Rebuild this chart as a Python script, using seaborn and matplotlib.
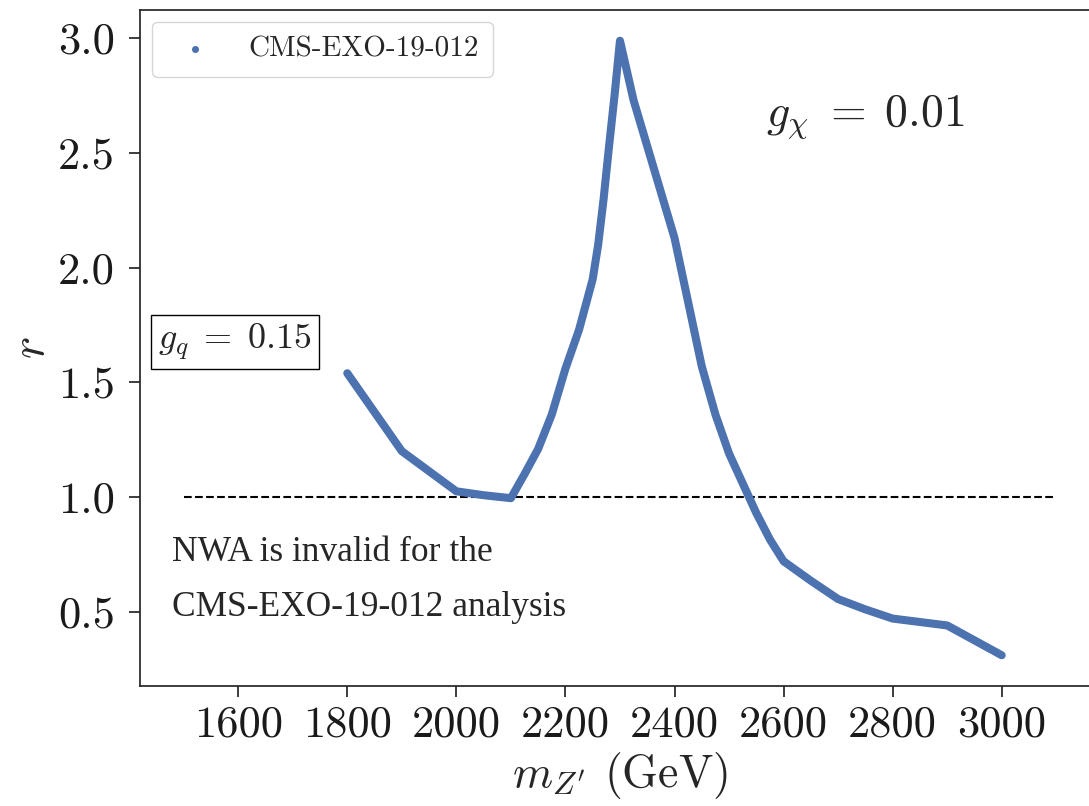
import matplotlib
matplotlib.use('Agg')
import matplotlib.pyplot as plt
import seaborn as sns

# ---- data ----
mass = [1800, 1850, 1900, 2000, 2050, 2100, 2125, 2150, 2175, 2200,
        2225, 2250, 2260, 2270, 2280, 2290, 2300, 2325, 2350, 2375,
        2400, 2425, 2450, 2475, 2500, 2525, 2550, 2575, 2600, 2650,
        2700, 2750, 2800, 2900, 3000]
r_vals = [1.54, 1.37, 1.20, 1.025, 1.008, 0.995, 1.10, 1.21, 1.36, 1.56,
          1.73, 1.95, 2.10, 2.30, 2.53, 2.75, 2.99, 2.73, 2.53, 2.33,
          2.13, 1.85, 1.57, 1.36, 1.19, 1.06, 0.93, 0.815, 0.72, 0.635,
          0.555, 0.51, 0.47, 0.44, 0.31]
nwa_x = [1500, 3100]
nwa_y = [1.0, 1.0]
xticks = [1600, 1800, 2000, 2200, 2400, 2600, 2800, 3000]
yticks = [0.5, 1.0, 1.5, 2.0, 2.5, 3.0]
series_label = 'CMS-EXO-19-012'

sns.set_style('ticks')
plt.rcParams['font.family'] = 'serif'
plt.rcParams['font.serif'] = ['cmr10']
plt.rcParams['mathtext.fontset'] = 'cm'
plt.rcParams['axes.formatter.use_mathtext'] = True

blue = '#4C72B0'

fig = plt.figure(figsize=(10.89, 8.06), dpi=100)
ax = fig.add_axes([0.1286, 0.1489, 1.01 - 0.1286, 0.9876 - 0.1489])

sns.scatterplot(x=mass, y=r_vals, ax=ax, color=blue, s=10, linewidth=0,
                label=series_label, zorder=1)
sns.lineplot(x=mass, y=r_vals, ax=ax, color=blue, linewidth=5.8, sort=False,
             estimator=None, legend=False, solid_capstyle='round',
             solid_joinstyle='round', zorder=3)
sns.lineplot(x=nwa_x, y=nwa_y, ax=ax, color='black', linestyle='--',
             linewidth=1.5, legend=False, zorder=2)

ax.set_xlim(1420, 3180)
ax.set_ylim(0.176, 3.124)
ax.set_xticks(xticks)
ax.set_yticks(yticks)
ax.set_xticklabels([str(v) for v in xticks])
ax.set_yticklabels(['%.1f' % v for v in yticks])
ax.tick_params(labelsize=32, width=1.25, length=8, colors='0.15',
               labelcolor='0.1')
ax.tick_params(axis='y', pad=10)
ax.tick_params(axis='x', pad=6)

ax.set_xlabel(r"$m_{Z'}$ (GeV)", fontsize=33, labelpad=3)
ax.set_ylabel(r"$r$", fontsize=34, labelpad=4)

leg = ax.legend(loc='upper left', fontsize=21, frameon=True,
                markerscale=1.6, borderpad=0.5, borderaxespad=0.4)
leg.get_frame().set_edgecolor('0.8')

ax.text(2567, 2.66, r"$g_\chi\;=\;0.01$", fontsize=33, va='center', ha='left')
ax.text(1594, 1.676, r"$g_q\;=\;0.15$", fontsize=26, va='center', ha='center',
        bbox=dict(boxstyle='square,pad=0.2', fc='white', ec='black', lw=1.0))
ax.text(1479, 0.76, "NWA is invalid for the", fontsize=25.5,
        family='Liberation Serif', va='center', ha='left')
ax.text(1479, 0.52, "CMS-EXO-19-012 analysis", fontsize=25.5,
        family='Liberation Serif', va='center', ha='left')

for s in ax.spines.values():
    s.set_linewidth(1.25)
    s.set_color('0.15')

fig.savefig('out.png', dpi=100)
